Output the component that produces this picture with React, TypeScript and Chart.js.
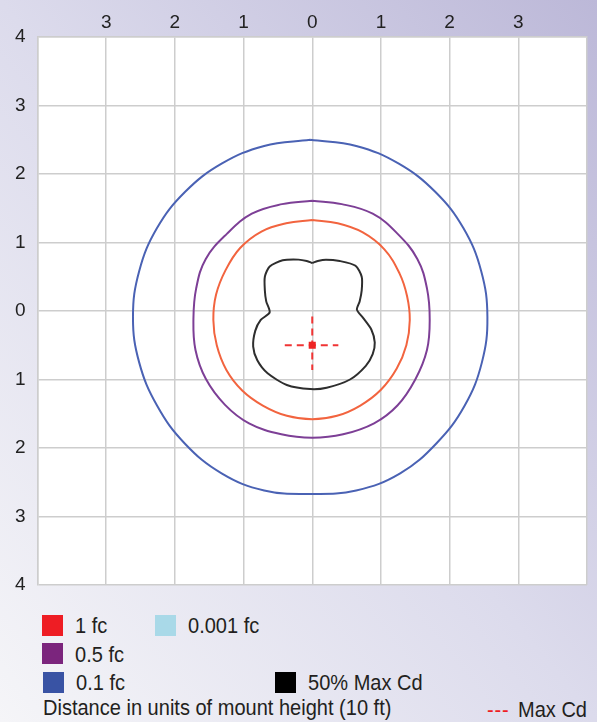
import React, { useEffect, useRef } from 'react';
import { Chart, registerables } from 'chart.js';

Chart.register(...registerables);

// Axis range (units of mount height)
const axisMin = -4;
const axisMax = 4;

// 1 fc isofootcandle contour (x, y)
const fc1Contour: [number, number][] = [
  [0, 1.33], [0.37, 1.28], [0.73, 1.15], [1.05, 0.9], [1.27, 0.55], [1.38, 0.22], [1.42, -0.13],
  [1.37, -0.5], [1.23, -0.84], [1.0, -1.15], [0.7, -1.38], [0.36, -1.53], [0, -1.58],
  [-0.37, -1.53], [-0.72, -1.38], [-1.02, -1.16], [-1.25, -0.86], [-1.39, -0.5], [-1.44, -0.13],
  [-1.4, 0.24], [-1.26, 0.6], [-1.05, 0.92], [-0.74, 1.16], [-0.38, 1.28], [0, 1.33],
];

// 0.5 fc contour
const fc05Contour: [number, number][] = [
  [0, 1.61], [0.43, 1.56], [0.88, 1.42], [1.24, 1.13], [1.53, 0.76], [1.67, 0.33], [1.71, -0.12],
  [1.67, -0.57], [1.5, -1.0], [1.24, -1.38], [0.9, -1.64], [0.45, -1.8], [0, -1.85],
  [-0.45, -1.8], [-0.92, -1.64], [-1.27, -1.37], [-1.55, -0.99], [-1.7, -0.57], [-1.73, -0.12],
  [-1.69, 0.33], [-1.55, 0.76], [-1.24, 1.13], [-0.88, 1.42], [-0.44, 1.56], [0, 1.61],
];

// 0.1 fc contour
const fc01Contour: [number, number][] = [
  [-0.03, 2.5], [0.64, 2.41], [1.26, 2.15], [1.79, 1.74], [2.2, 1.21], [2.46, 0.58], [2.55, -0.09],
  [2.47, -0.75], [2.22, -1.38], [1.81, -1.93], [1.28, -2.37], [0.64, -2.62], [-0.03, -2.67],
  [-0.7, -2.62], [-1.32, -2.37], [-1.86, -1.93], [-2.26, -1.38], [-2.52, -0.75], [-2.61, -0.09],
  [-2.52, 0.58], [-2.26, 1.21], [-1.85, 1.74], [-1.32, 2.15], [-0.7, 2.41], [-0.03, 2.5],
];

// 50% Max Cd contour
const halfMaxCdContour: [number, number][] = [
  [0, 0.7], [0.08, 0.73], [0.2, 0.75], [0.4, 0.73], [0.63, 0.66], [0.72, 0.5], [0.72, 0.3],
  [0.69, 0.14], [0.65, 0.02], [0.74, -0.1], [0.86, -0.27], [0.91, -0.46], [0.88, -0.63],
  [0.78, -0.8], [0.55, -1.0], [0.21, -1.12], [-0.03, -1.14], [-0.37, -1.08], [-0.65, -0.91],
  [-0.8, -0.72], [-0.86, -0.52], [-0.83, -0.29], [-0.75, -0.13], [-0.62, -0.02], [-0.67, 0.14],
  [-0.69, 0.3], [-0.69, 0.5], [-0.62, 0.65], [-0.43, 0.74], [-0.2, 0.75], [-0.08, 0.73], [0, 0.7],
];

// Max Cd location and cross-hair extents
const maxCdPoint: [number, number] = [0, -0.5];
const maxCdHorizontal: [number, number][] = [[-0.4, -0.5], [0.38, -0.5]];
const maxCdVertical: [number, number][] = [[0, -0.08], [0, -0.86]];

// Legend entries
const legendLabels = ['1 fc', '0.001 fc', '0.5 fc', '0.1 fc', '50% Max Cd'];
const footerLabel = 'Distance in units of mount height (10 ft)';
const maxCdLabel = 'Max Cd';

const FONT = '"Liberation Sans", Arial, sans-serif';

const toXY = (pts: [number, number][]) => pts.map(([x, y]) => ({ x, y }));

const whiteArea = {
  id: 'whiteArea',
  beforeDraw(chart: any) {
    const { ctx, chartArea } = chart;
    ctx.save();
    ctx.fillStyle = '#ffffff';
    ctx.fillRect(chartArea.left, chartArea.top, chartArea.right - chartArea.left, chartArea.bottom - chartArea.top);
    ctx.restore();
  },
};

export default function App() {
  const canvasRef = useRef<HTMLCanvasElement | null>(null);

  useEffect(() => {
    if (!canvasRef.current) return;
    const lineDs = (label: string, pts: [number, number][], color: string, tension: number) => ({
      label,
      data: toXY(pts),
      showLine: true,
      borderColor: color,
      backgroundColor: color,
      borderWidth: 2,
      pointRadius: 0,
      tension,
      fill: false,
    });
    const chart = new Chart(canvasRef.current, {
      type: 'scatter',
      data: {
        datasets: [
          {
            label: 'Max Cd',
            data: [{ x: maxCdPoint[0], y: maxCdPoint[1] }],
            pointStyle: 'rect',
            pointRadius: 5,
            backgroundColor: '#ee2424',
            borderColor: '#ee2424',
            borderWidth: 0,
          } as any,
          {
            ...lineDs('Max Cd H', maxCdHorizontal, '#f03434', 0),
            borderDash: [7, 5],
          },
          {
            ...lineDs('Max Cd V', maxCdVertical, '#f03434', 0),
            borderDash: [7, 5],
          },
          lineDs('50% Max Cd', halfMaxCdContour, '#2e2e2e', 0.25),
          lineDs('1 fc', fc1Contour, '#f2643f', 0.4),
          lineDs('0.5 fc', fc05Contour, '#7d3f96', 0.4),
          lineDs('0.1 fc', fc01Contour, '#4a62b4', 0.4),
        ],
      },
      options: {
        animation: false,
        responsive: false,
        devicePixelRatio: 1,
        layout: { padding: { left: 0, top: 0, right: 10, bottom: 15 } },
        plugins: { legend: { display: false }, tooltip: { enabled: false } },
        scales: {
          x: {
            type: 'linear',
            position: 'top',
            min: axisMin,
            max: axisMax,
            afterFit: (s: any) => { s.height = 37; s.paddingLeft = 0; s.paddingRight = 0; },
            ticks: {
              stepSize: 1,
              padding: 3,
              color: '#222222',
              font: { family: FONT, size: 19 },
              callback: (v: any) => (Math.abs(v) >= 4 ? '' : String(Math.abs(v))),
            },
            grid: { color: '#cdcdcd', lineWidth: 1.5, drawTicks: false },
            border: { color: '#cdcdcd', width: 1.5 },
          },
          y: {
            type: 'linear',
            min: axisMin,
            max: axisMax,
            afterFit: (s: any) => { s.width = 37.5; s.paddingTop = 0; s.paddingBottom = 0; },
            ticks: {
              stepSize: 1,
              padding: 12,
              color: '#222222',
              font: { family: FONT, size: 19 },
              callback: (v: any) => String(Math.abs(v)),
            },
            grid: { color: '#cdcdcd', lineWidth: 1.5, drawTicks: false },
            border: { color: '#cdcdcd', width: 1.5 },
          },
        },
      },
      plugins: [whiteArea],
    } as any);
    return () => chart.destroy();
  }, []);

  const sq = (left: number, top: number, color: string) => (
    <div style={{ position: 'absolute', left, top, width: 21, height: 21, background: color }} />
  );
  const txt = (left: number, top: number, s: string, extra: any = {}) => (
    <div
      style={{
        position: 'absolute', left, top, fontFamily: FONT, fontSize: 22.5, lineHeight: '22.5px',
        color: '#231f20', whiteSpace: 'nowrap', transform: 'scaleX(0.89)', transformOrigin: '0 0', ...extra,
      }}
    >
      {s}
    </div>
  );

  return (
    <div
      style={{
        position: 'absolute', left: 0, top: 0, width: 597, height: 722, overflow: 'hidden',
        background: 'linear-gradient(to top right, #f5f5f8 0%, #dcdbec 50%, #bcb8d8 100%)',
      }}
    >
      <canvas ref={canvasRef} width={597} height={600} style={{ position: 'absolute', left: 0, top: 0, width: 597, height: 600 }} />
      {sq(42, 615, '#ee1d24')}
      {txt(75, 615.3, legendLabels[0])}
      {sq(155, 615, '#a9d9e8')}
      {txt(188, 615.3, legendLabels[1])}
      {sq(42, 643, '#7b257d')}
      {txt(75, 644.3, legendLabels[2])}
      {sq(43, 672, '#3953a4')}
      {txt(75.5, 672, legendLabels[3])}
      {sq(275, 672, '#000000')}
      {txt(307.5, 672, legendLabels[4])}
      {txt(42.5, 697, footerLabel)}
      {txt(487, 698.5, '---', { color: '#ee1d24', letterSpacing: '1px' })}
      {txt(518, 698.5, maxCdLabel)}
    </div>
  );
}
